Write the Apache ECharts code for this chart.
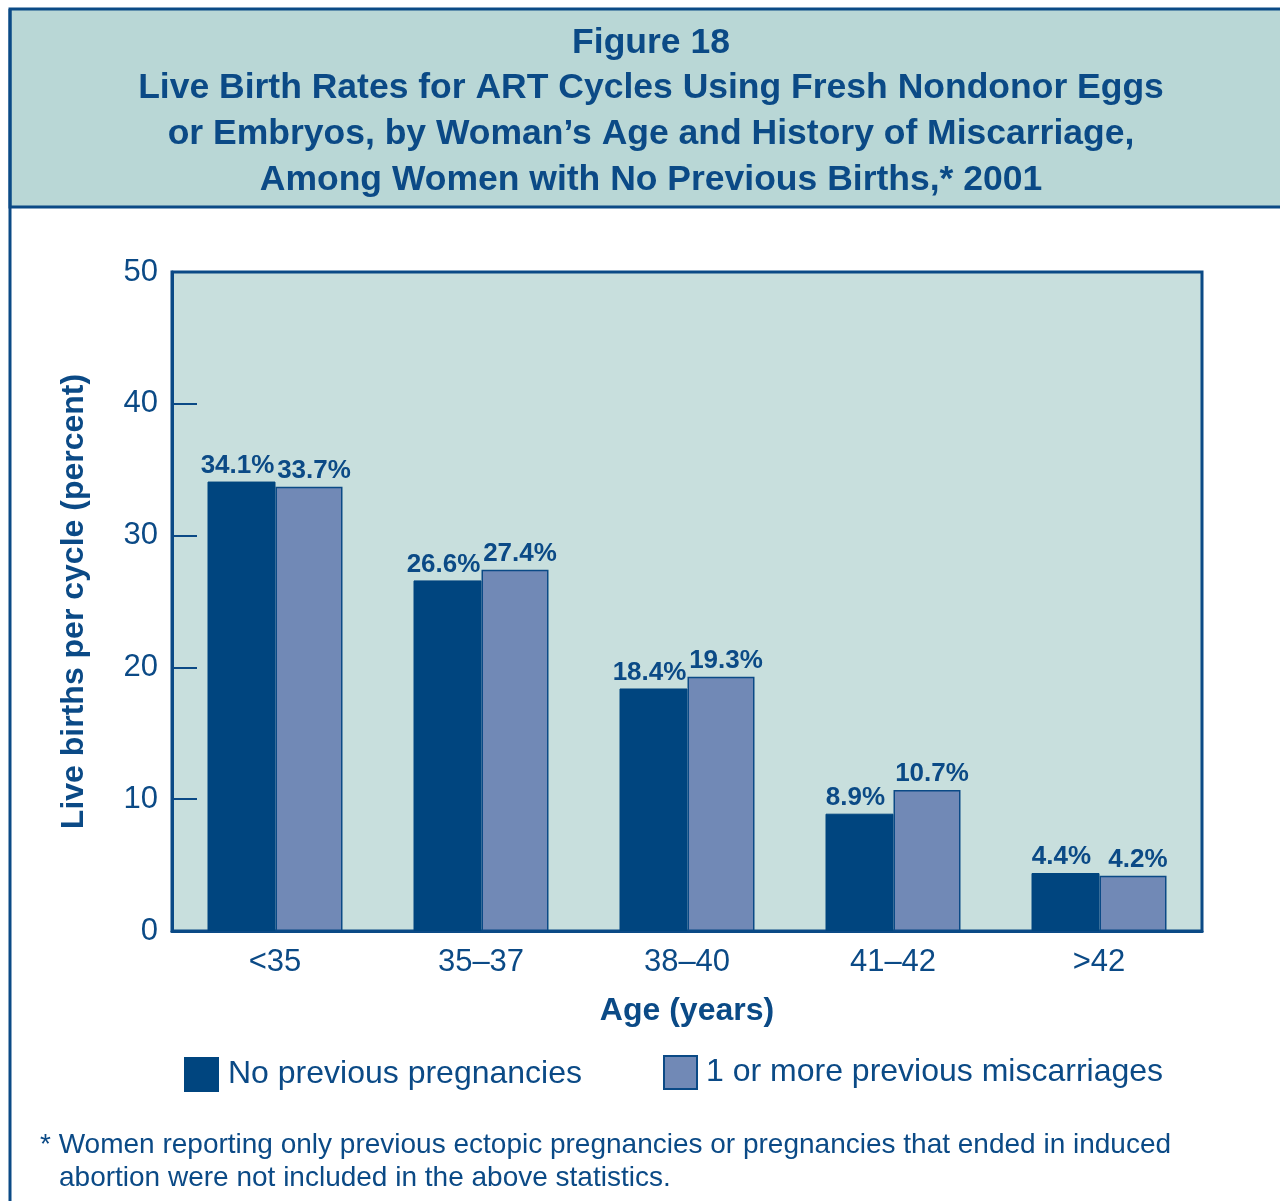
<!DOCTYPE html>
<html>
<head>
<meta charset="utf-8">
<script src="https://cdn.jsdelivr.net/npm/echarts@6/dist/echarts.min.js"></script>
<style>
  html, body { margin: 0; padding: 0; background: #fff; }
  #main { width: 1280px; height: 1201px; }
</style>
</head>
<body>
<div id="main"></div>
<script>
const ageGroups = ["<35", "35\u201337", "38\u201340", "41\u201342", ">42"];
const noPrevPregnancies = [34.1, 26.6, 18.4, 8.9, 4.4];
const prevMiscarriages = [33.7, 27.4, 19.3, 10.7, 4.2];
const yTicks = [0, 10, 20, 30, 40, 50];
const seriesNames = ["No previous pregnancies", "1 or more previous miscarriages"];

const titleLines = [
  "Figure 18",
  "Live Birth Rates for ART Cycles Using Fresh Nondonor Eggs",
  "or Embryos, by Woman\u2019s Age and History of Miscarriage,",
  "Among Women with No Previous Births,* 2001"
];
const footnote = [
  "* Women reporting only previous ectopic pregnancies or pregnancies that ended in induced",
  "abortion were not included in the above statistics."
];

const navy = "#0b4a86";
const darkBar = "#00457f";
const lightBar = "#7189b6";
const font = "'Liberation Sans', Arial, Helvetica, sans-serif";

const chart = echarts.init(document.getElementById("main"));

const graphics = [
  {
    type: "rect",
    shape: { x: 10, y: 9, width: 1275, height: 198 },
    style: { fill: "#b9d7d6", stroke: navy, lineWidth: 3 },
    z: 0
  },
  {
    type: "line",
    shape: { x1: 10, y1: 9, x2: 10, y2: 1205 },
    style: { stroke: navy, lineWidth: 3 },
    z: 1
  }
];
titleLines.forEach(function (t, i) {
  graphics.push({
    type: "text",
    x: 651,
    y: 43 + i * 45.7,
    style: {
      text: t,
      fill: navy,
      font: "bold 35.5px " + font,
      textAlign: "center",
      textVerticalAlign: "middle"
    },
    z: 2
  });
});
footnote.forEach(function (t, i) {
  graphics.push({
    type: "text",
    x: i === 0 ? 40 : 59,
    y: 1145 + i * 33,
    style: {
      text: t,
      fill: navy,
      font: "28px " + font,
      textAlign: "left",
      textVerticalAlign: "middle"
    },
    z: 2
  });
});

function barLabel(dx) {
  return {
    show: true,
    position: "top",
    distance: 3,
    offset: [dx, 0],
    color: navy,
    fontFamily: font,
    fontWeight: "bold",
    fontSize: 26,
    formatter: function (p) { return p.value.toFixed(1) + "%"; }
  };
}

chart.setOption({
  animation: false,
  textStyle: { fontFamily: font },
  graphic: graphics,
  grid: {
    left: 172,
    right: 78,
    top: 272,
    bottom: 270,
    show: true,
    backgroundColor: "#c8dfdd",
    borderColor: navy,
    borderWidth: 3,
    containLabel: false
  },
  legend: [
    {
      data: [seriesNames[0]],
      left: 179,
      top: 1052,
      icon: "rect",
      itemWidth: 33,
      itemHeight: 33,
      textStyle: { color: navy, fontSize: 32, fontFamily: font, padding: [12, 0, 0, 5] }
    },
    {
      data: [seriesNames[1]],
      left: 658,
      top: 1050,
      icon: "rect",
      itemWidth: 33,
      itemHeight: 33,
      textStyle: { color: navy, fontSize: 32, fontFamily: font, padding: [4, 0, 0, 4] }
    }
  ],
  xAxis: {
    type: "category",
    data: ageGroups,
    axisLine: { show: true, lineStyle: { color: navy, width: 3 } },
    axisTick: { show: false },
    axisLabel: { color: navy, fontSize: 31, fontFamily: font, margin: 16 },
    name: "Age (years)",
    nameLocation: "middle",
    nameGap: 64,
    nameTextStyle: { color: navy, fontSize: 32, fontWeight: "bold", fontFamily: font }
  },
  yAxis: {
    type: "value",
    min: yTicks[0],
    max: yTicks[yTicks.length - 1],
    interval: yTicks[1] - yTicks[0],
    axisLine: { show: true, lineStyle: { color: navy, width: 3 } },
    axisTick: { show: true, inside: true, length: 25, lineStyle: { color: navy, width: 2 } },
    splitLine: { show: false },
    axisLabel: { color: navy, fontSize: 31, fontFamily: font, margin: 14 },
    name: "Live births per cycle (percent)",
    nameLocation: "middle",
    nameGap: 82,
    nameTextStyle: { color: navy, fontSize: 32, fontWeight: "bold", fontFamily: font }
  },
  series: [
    {
      name: seriesNames[0],
      type: "bar",
      data: noPrevPregnancies,
      barWidth: 68,
      barGap: "0%",
      itemStyle: { color: darkBar, borderColor: darkBar, borderWidth: 1 },
      label: barLabel(-4)
    },
    {
      name: seriesNames[1],
      type: "bar",
      data: prevMiscarriages,
      barWidth: 67,
      barGap: "0%",
      itemStyle: { color: lightBar, borderColor: navy, borderWidth: 1.5 },
      label: barLabel(5)
    }
  ]
});
</script>
</body>
</html>
